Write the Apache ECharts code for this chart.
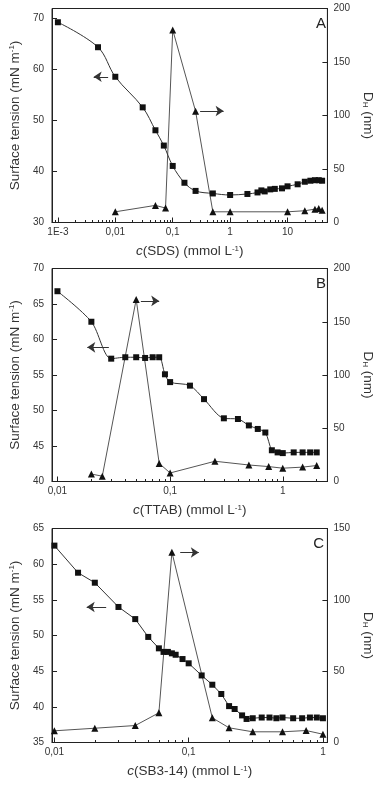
<!DOCTYPE html>
<html>
<head>
<meta charset="utf-8">
<script src="https://cdn.jsdelivr.net/npm/echarts@6/dist/echarts.min.js"></script>
<style>
html,body{margin:0;padding:0;background:#fff;}
#chart{width:383px;height:786px;}
</style>
</head>
<body>
<div id="chart"></div>
<script>
// A: SDS
var sdsConc = [0.001, 0.005, 0.01, 0.03, 0.05, 0.07, 0.1, 0.16, 0.25, 0.5, 1, 2, 3, 3.5, 4, 5, 6, 8, 10, 15, 20, 25, 30, 35, 40];
var sdsTension = [69.3, 64.4, 58.6, 52.6, 48.1, 45.1, 41.1, 37.8, 36.2, 35.7, 35.4, 35.6, 35.9, 36.3, 36.1, 36.5, 36.6, 36.7, 37.1, 37.5, 38.0, 38.2, 38.3, 38.3, 38.2];
var sdsDhConc = [0.01, 0.05, 0.075, 0.1, 0.25, 0.5, 1, 10, 20, 30, 35, 40];
var sdsDh = [10, 16, 13.5, 180, 104, 10, 10, 10, 11, 12.5, 13, 11.5];
var sdsTicks = [0.001, 0.01, 0.1, 1, 10];
var sdsTickLabels = ['1E-3', '0,01', '0,1', '1', '10'];

// B: TTAB
var ttabConc = [0.01, 0.02, 0.03, 0.04, 0.05, 0.06, 0.07, 0.08, 0.09, 0.1, 0.15, 0.2, 0.3, 0.4, 0.5, 0.6, 0.7, 0.8, 0.9, 1, 1.25, 1.5, 1.75, 2];
var ttabTension = [66.8, 62.5, 57.3, 57.5, 57.5, 57.4, 57.5, 57.5, 55.1, 54.0, 53.5, 51.6, 48.9, 48.8, 47.9, 47.4, 46.9, 44.4, 44.1, 44.0, 44.1, 44.1, 44.1, 44.1];
var ttabDhConc = [0.02, 0.025, 0.05, 0.08, 0.1, 0.25, 0.5, 0.75, 1, 1.5, 2];
var ttabDh = [7, 5, 171, 17, 8, 19, 15.5, 14, 12.5, 13.5, 15];
var ttabTicks = [0.01, 0.1, 1];
var ttabTickLabels = ['0,01', '0,1', '1'];

// C: SB3-14
var sbConc = [0.01, 0.015, 0.02, 0.03, 0.04, 0.05, 0.06, 0.065, 0.07, 0.075, 0.08, 0.09, 0.1, 0.125, 0.15, 0.175, 0.2, 0.22, 0.25, 0.27, 0.3, 0.35, 0.4, 0.45, 0.5, 0.6, 0.7, 0.8, 0.9, 1];
var sbTension = [62.6, 58.8, 57.4, 54.0, 52.3, 49.8, 48.2, 47.7, 47.7, 47.5, 47.3, 46.7, 46.1, 44.4, 43.1, 41.8, 40.1, 39.7, 38.8, 38.3, 38.4, 38.5, 38.5, 38.4, 38.5, 38.4, 38.4, 38.5, 38.5, 38.4];
var sbDhConc = [0.01, 0.02, 0.04, 0.06, 0.075, 0.15, 0.2, 0.3, 0.5, 0.75, 1];
var sbDh = [8.2, 10, 11.9, 20.8, 133.4, 17.3, 10.3, 7.5, 7.5, 8.4, 5.8];
var sbTicks = [0.01, 0.1, 1];
var sbTickLabels = ['0,01', '0,1', '1'];

var FONT = '"Liberation Sans", Arial, sans-serif';
var INK = '#222';

var panels = [
  {letter: 'A', surf: 'SDS', top: 8.5, height: 214, left: 47, right: 49,
   xMin: 0.00079, xMax: 49.5, ticks: sdsTicks, tickLabels: sdsTickLabels,
   tMin: 30, tMax: 72, tStep: 10, dMax: 200, dStep: 50, smooth: 0.35,
   conc: sdsConc, tension: sdsTension, dhConc: sdsDhConc, dh: sdsDh,
   arrowL: [[0.0075, 58.6], [0.0042, 58.6]], arrowR: [[0.3, 104.2], [0.77, 104.2]]},
  {letter: 'B', surf: 'TTAB', top: 268.5, height: 213, left: 48, right: 49,
   xMin: 0.00895, xMax: 2.49, ticks: ttabTicks, tickLabels: ttabTickLabels,
   tMin: 40, tMax: 70, tStep: 5, dMax: 200, dStep: 50, smooth: 0.3,
   conc: ttabConc, tension: ttabTension, dhConc: ttabDhConc, dh: ttabDh,
   arrowL: [[0.0286, 58.9], [0.0184, 58.9]], arrowR: [[0.055, 169.6], [0.08, 169.6]]},
  {letter: 'C', surf: 'SB3-14', top: 528.5, height: 214, left: 49, right: 51,
   xMin: 0.0096, xMax: 1.08, ticks: sbTicks, tickLabels: sbTickLabels,
   tMin: 35, tMax: 65, tStep: 5, dMax: 150, dStep: 50, smooth: false,
   conc: sbConc, tension: sbTension, dhConc: sbDhConc, dh: sbDh,
   arrowL: [[0.0243, 54.0], [0.0174, 54.0]], arrowR: [[0.0865, 133.2], [0.119, 133.2]]}
];

function zip(a, b) {
  return a.map(function (v, i) { return [v, b[i]]; });
}
function steps(min, max, step) {
  var out = [];
  for (var v = Math.ceil(min / step) * step; v <= max + 1e-9; v += step) out.push(+v.toFixed(6));
  return out;
}
function logMinors(min, max) {
  var out = [];
  for (var e = Math.floor(Math.log10(min)); e <= Math.ceil(Math.log10(max)); e++) {
    for (var k = 2; k <= 9; k++) {
      var v = +(k * Math.pow(10, e)).toPrecision(6);
      if (v > min && v < max) out.push(v);
    }
  }
  return out;
}

var grids = [], xAxes = [], yAxes = [], series = [], titles = [];
var tickLine = {color: INK, width: 1};
var labelStyle = {fontFamily: FONT, fontSize: 10, color: '#333'};
var supRich = {
  i: {fontFamily: FONT, fontSize: 13.5, fontStyle: 'italic', color: '#333'},
  s: {fontFamily: FONT, fontSize: 8, verticalAlign: 'top', color: '#333'},
  h: {fontFamily: FONT, fontSize: 8, verticalAlign: 'bottom', color: '#333'}
};
var nameStyle = {fontFamily: FONT, fontSize: 13.5, color: '#333', rich: supRich};

panels.forEach(function (p, i) {
  grids.push({left: p.left, right: p.right, top: p.top, height: p.height,
    show: true, borderColor: INK, borderWidth: 1, backgroundColor: 'transparent'});

  var xi = xAxes.length;
  xAxes.push({
    type: 'log', gridIndex: i, min: p.xMin, max: p.xMax, position: 'bottom',
    axisLine: {lineStyle: tickLine},
    axisTick: {inside: true, length: 5, lineStyle: tickLine, customValues: p.ticks},
    axisLabel: Object.assign({customValues: p.ticks, margin: 5, formatter: function (v) {
      for (var k = 0; k < p.ticks.length; k++) {
        if (Math.abs(Math.log10(v) - Math.log10(p.ticks[k])) < 1e-6) return p.tickLabels[k];
      }
      return '';
    }}, labelStyle),
    splitLine: {show: false},
    name: '{i|c}(' + p.surf + ') (mmol L{s|-1})', nameLocation: 'middle', nameGap: 22,
    nameTextStyle: nameStyle
  });
  xAxes.push({
    type: 'log', gridIndex: i, min: p.xMin, max: p.xMax, position: 'bottom',
    axisLine: {show: false},
    axisTick: {inside: true, length: 2.5, lineStyle: tickLine, customValues: logMinors(p.xMin, p.xMax)},
    axisLabel: {show: false}, splitLine: {show: false}
  });

  var yl = yAxes.length;
  yAxes.push({
    type: 'value', gridIndex: i, min: p.tMin, max: p.tMax, position: 'left',
    axisLine: {show: true, lineStyle: tickLine},
    axisTick: {inside: true, length: 5, lineStyle: tickLine, customValues: steps(p.tMin, p.tMax, p.tStep)},
    axisLabel: Object.assign({customValues: steps(p.tMin, p.tMax, p.tStep), margin: 8}, labelStyle),
    splitLine: {show: false},
    name: 'Surface tension (mN m{s|-1})', nameLocation: 'middle', nameGap: 24,
    nameTextStyle: nameStyle
  });
  yAxes.push({
    type: 'value', gridIndex: i, min: p.tMin, max: p.tMax, position: 'left',
    axisLine: {show: false},
    axisTick: {inside: true, length: 2.5, lineStyle: tickLine,
      customValues: steps(p.tMin + p.tStep / 2, p.tMax, p.tStep)},
    axisLabel: {show: false}, splitLine: {show: false}
  });
  var yr = yAxes.length;
  yAxes.push({
    type: 'value', gridIndex: i, min: 0, max: p.dMax, position: 'right',
    axisLine: {show: true, lineStyle: tickLine},
    axisTick: {inside: true, length: 5, lineStyle: tickLine, customValues: steps(0, p.dMax, p.dStep)},
    axisLabel: Object.assign({customValues: steps(0, p.dMax, p.dStep), margin: 6}, labelStyle),
    splitLine: {show: false},
    name: 'D{h|H} (nm)', nameLocation: 'middle', nameGap: 28, nameRotate: -90,
    nameTextStyle: nameStyle
  });
  yAxes.push({
    type: 'value', gridIndex: i, min: 0, max: p.dMax, position: 'right',
    axisLine: {show: false},
    axisTick: {inside: true, length: 2.5, lineStyle: tickLine,
      customValues: steps(p.dStep / 2, p.dMax, p.dStep)},
    axisLabel: {show: false}, splitLine: {show: false}
  });

  var arrow = {
    silent: true, symbol: ['none', 'arrow'], symbolSize: 8,
    itemStyle: {color: '#333'},
    label: {show: false}, lineStyle: {color: '#333', width: 1, type: 'solid'},
    emphasis: {disabled: true}
  };

  series.push({
    type: 'line', xAxisIndex: xi, yAxisIndex: yr, data: zip(p.dhConc, p.dh),
    symbol: 'triangle', symbolSize: 7, smooth: false,
    itemStyle: {color: '#111'}, lineStyle: {color: '#555', width: 1},
    markLine: Object.assign({data: [[{coord: p.arrowR[0]}, {coord: p.arrowR[1]}]]}, arrow)
  });
  series.push({
    type: 'line', xAxisIndex: xi, yAxisIndex: yl, data: zip(p.conc, p.tension),
    symbol: 'rect', symbolSize: 6, smooth: p.smooth,
    itemStyle: {color: '#111'}, lineStyle: {color: '#333', width: 1},
    markLine: Object.assign({data: [[{coord: p.arrowL[0]}, {coord: p.arrowL[1]}]]}, arrow)
  });

  titles.push({text: p.letter, right: p.right + 3, top: p.top + 3,
    textStyle: {fontFamily: FONT, fontSize: 15, fontWeight: 'normal', color: '#222'}});
});

var myChart = echarts.init(document.getElementById('chart'));
myChart.setOption({
  animation: false,
  title: titles,
  grid: grids,
  xAxis: xAxes,
  yAxis: yAxes,
  series: series
});
</script>
</body>
</html>
